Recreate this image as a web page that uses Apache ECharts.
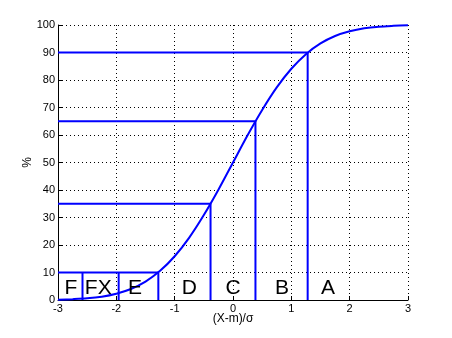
<!DOCTYPE html>
<html><head><meta charset="utf-8">
<script src="https://cdn.jsdelivr.net/npm/echarts@6/dist/echarts.min.js"></script>
<style>html,body{margin:0;padding:0;background:#fff}#c{width:452px;height:338px}</style>
</head><body><div id="c"></div>
<script>
// Curve readings (x = (X-m)/sigma, y = %)
const curveX = [-3,-2.75,-2.5,-2.25,-2,-1.75,-1.5,-1.25,-1,-0.75,-0.5,-0.25,0,0.25,0.5,0.75,1,1.25,1.5,1.75,2,2.25,2.5,2.75,3];
const curveY = [0.1,0.3,0.6,1.2,2.3,4.0,6.7,10.6,15.9,22.7,30.9,40.1,50,59.9,69.1,77.3,84.1,89.4,93.3,96.0,97.7,98.8,99.4,99.7,99.9];
// Guide lines: cut points and percentage levels
const cutX = [-1.28, -0.385, 0.385, 1.28];
const cutLevel = [10, 35, 65, 90];
const lowCutX = [-2.58, -1.96];
const lowCutTop = [10, 10];
// Grade labels
const gradeNames = ['F','FX','E','D','C','B','A'];
const gradeX = [-2.78, -2.31, -1.68, -0.75, 0.0, 0.84, 1.63];
const gradeY = [4.2,4.2,4.2,4.2,4.2,4.2,4.2];

const blue = '#0000ff';
const font = 'Liberation Sans, Arial, sans-serif';
const series = [];
series.push({type:'line', data: curveX.map((x,i)=>[x,curveY[i]]), smooth:0.3, symbol:'none',
  lineStyle:{color:blue,width:2}, z:3});
cutX.forEach((x,i)=>{
  series.push({type:'line', data:[[-3,cutLevel[i]],[x,cutLevel[i]],[x,0]], symbol:'none',
    lineStyle:{color:blue,width:2}, z:3});
});
lowCutX.forEach((x,i)=>{
  series.push({type:'line', data:[[x,lowCutTop[i]],[x,0]], symbol:'none',
    lineStyle:{color:blue,width:2}, z:3});
});
series.push({type:'scatter', data: gradeX.map((x,i)=>[x,gradeY[i],gradeNames[i]]), symbolSize:1,
  itemStyle:{opacity:0},
  label:{show:true, position:'inside', formatter:p=>p.data[2], color:'#000', opacity:1, fontSize:21, fontFamily:font},
  z:5});

const chart = echarts.init(document.getElementById('c'), null, {renderer:'canvas'});
chart.setOption({
  animation:false,
  backgroundColor:'#fff',
  grid:{left:58, right:44, top:25, bottom:38, containLabel:false},
  xAxis:{type:'value', min:-3, max:3, interval:1,
    name:'(X-m)/σ', nameLocation:'middle', nameGap:13, nameMoveOverlap:false,
    nameTextStyle:{color:'#000', fontSize:12, fontFamily:font},
    axisLine:{show:true, onZero:false, lineStyle:{color:'#000',width:1}},
    axisTick:{show:true, inside:true, length:4, lineStyle:{color:'#000'}},
    axisLabel:{color:'#000', fontSize:11, fontFamily:font, margin:3},
    splitLine:{show:true, lineStyle:{color:'#000', width:1, type:[1,3]}}},
  yAxis:{type:'value', min:0, max:100, interval:10,
    name:'%', nameLocation:'middle', nameGap:24, nameRotate:90, nameMoveOverlap:false,
    nameTextStyle:{color:'#000', fontSize:12, fontFamily:font},
    axisLine:{show:true, onZero:false, lineStyle:{color:'#000',width:1}},
    axisTick:{show:true, inside:true, length:4, lineStyle:{color:'#000'}},
    axisLabel:{color:'#000', fontSize:11, fontFamily:font, margin:3},
    splitLine:{show:true, lineStyle:{color:'#000', width:1, type:[1,3]}}},
  series: series
});
</script></body></html>
